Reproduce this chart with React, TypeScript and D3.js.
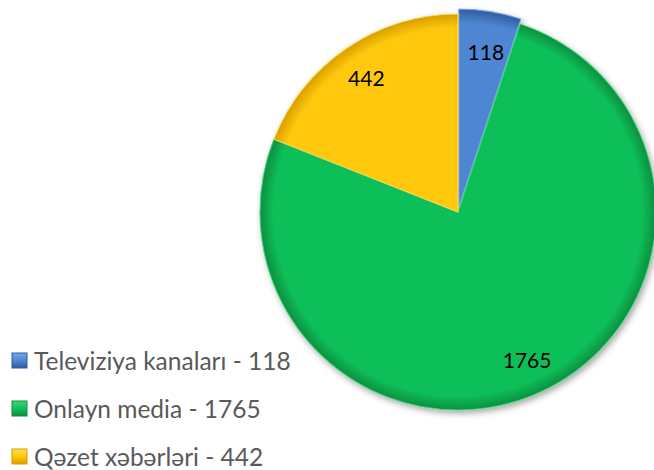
import React from "react";
import * as d3 from "d3";

const categories = ["Televiziya kanaları", "Onlayn media", "Qəzet xəbərləri"];
const values = [118, 1765, 442];
const colors = ["#4f86d3", "#10bf58", "#ffc80a"];
const darkColors = ["#2f5c9e", "#0a8f40", "#d99e00"];
const lightColors = ["#7aa7e6", "#3fd67e", "#ffdc55"];

const W = 654;
const H = 470;
const cx = 458;
const cy = 212;
const R = 198;

export default function App() {
  const pie = d3.pie<number>().sort(null).value((d) => d)(values);
  const arc = d3.arc<d3.PieArcDatum<number>>().innerRadius(0).outerRadius(R);
  const explode = [5, 0, 0];

  return (
    <svg width={W} height={H} style={{ position: "absolute", left: 0, top: 0, display: "block" }}>
      <defs>
        {colors.map((c, i) => (
          <radialGradient key={i} id={`g${i}`} cx="0" cy="0" r={R} gradientUnits="userSpaceOnUse">
            <stop offset="0%" stopColor={c} />
            <stop offset="93%" stopColor={c} />
            <stop offset="100%" stopColor={darkColors[i]} />
          </radialGradient>
        ))}
        {colors.map((c, i) => (
          <linearGradient key={`l${i}`} id={`lg${i}`} x1="0" y1="0" x2="0" y2="1">
            <stop offset="0%" stopColor={lightColors[i]} />
            <stop offset="50%" stopColor={c} />
            <stop offset="100%" stopColor={darkColors[i]} />
          </linearGradient>
        ))}
        <filter id="shadow" x="-20%" y="-20%" width="140%" height="140%">
          <feDropShadow dx="2" dy="3" stdDeviation="3" floodColor="#000" floodOpacity="0.35" />
        </filter>
      </defs>
      <g filter="url(#shadow)">
        {pie.map((p, i) => {
          const mid = (p.startAngle + p.endAngle) / 2;
          const ox = Math.sin(mid) * explode[i];
          const oy = -Math.cos(mid) * explode[i];
          return (
            <g key={i} transform={`translate(${cx + ox},${cy + oy})`}>
              <path d={arc(p) || ""} fill={`url(#g${i})`} stroke={lightColors[i]} strokeWidth={1.2} strokeOpacity={0.8} />
            </g>
          );
        })}
      </g>
      {pie.map((p, i) => {
        const mid = (p.startAngle + p.endAngle) / 2;
        const r = 163;
        const x = cx + Math.sin(mid) * r + (i === 0 ? 2 : 0);
        const y = cy - Math.cos(mid) * r;
        return (
          <text
            key={`t${i}`}
            x={x}
            y={y}
            textAnchor="middle"
            dominantBaseline="central"
            fontFamily="Lato, 'Liberation Sans', sans-serif"
            fontSize={21}
            fill="#000"
          >
            {values[i]}
          </text>
        );
      })}
      {categories.map((c, i) => (
        <g key={`lg${i}`} transform={`translate(12,${370 + i * 48})`}>
          <rect x={0} y={-17} width={15} height={15} fill={`url(#lg${i})`} stroke={darkColors[i]} strokeWidth={1} />
          <text
            x={22}
            y={0}
            fontFamily="Lato, 'Open Sans', sans-serif"
            fontSize={24.5}
            fill="#595959"
          >
            {`${c} - ${values[i]}`}
          </text>
        </g>
      ))}
    </svg>
  );
}
